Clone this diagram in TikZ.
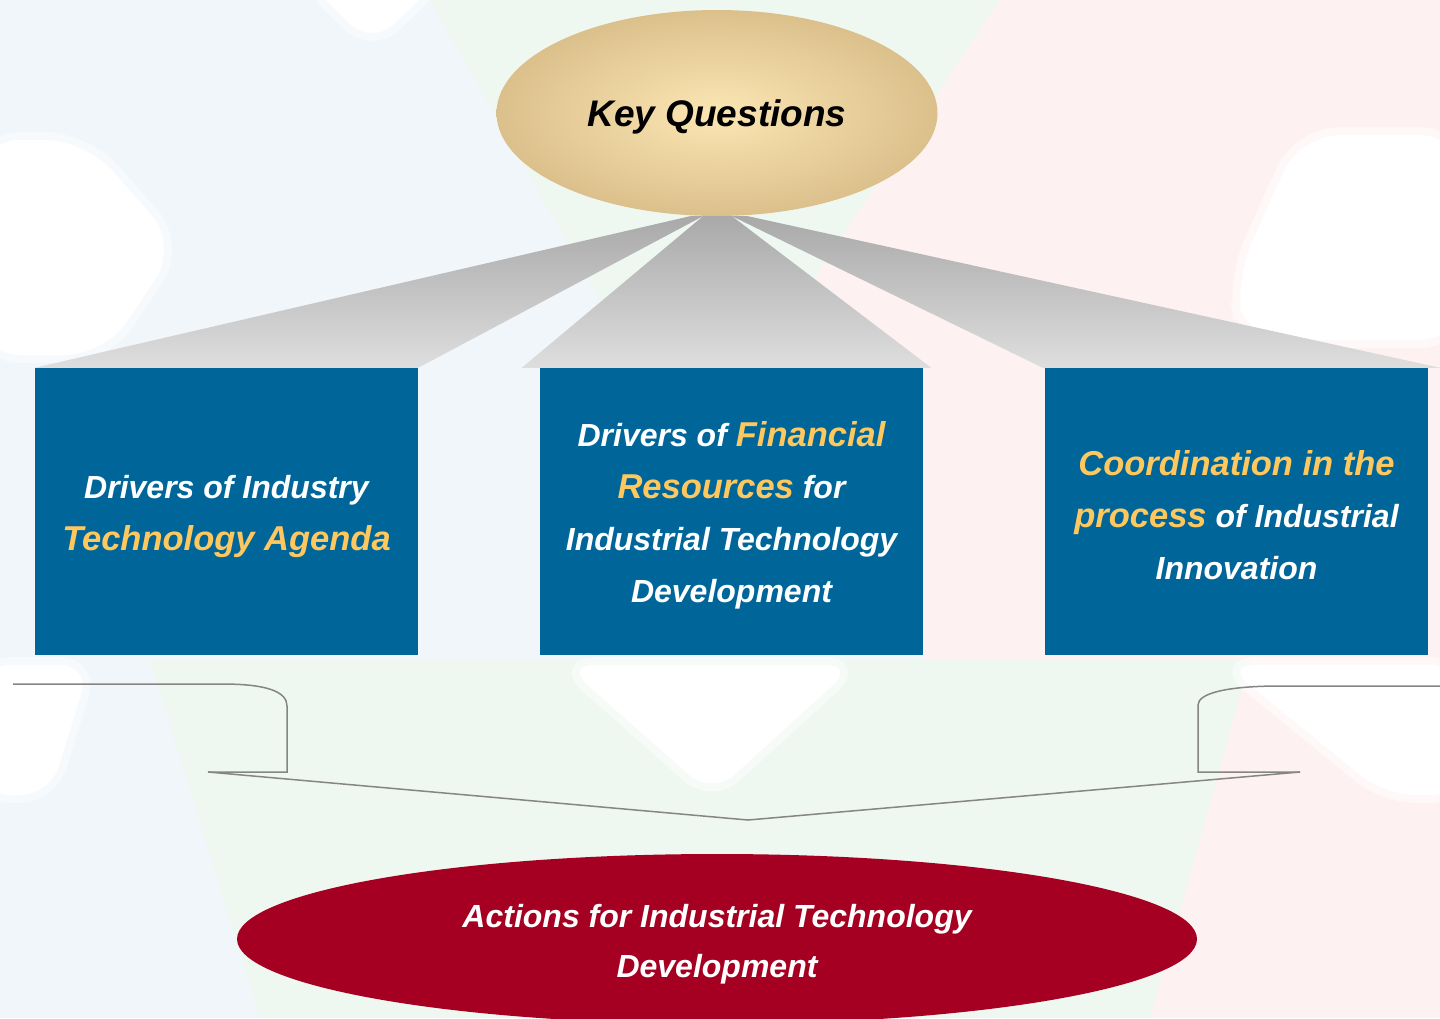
\documentclass[tikz,border=0pt]{standalone}
\usepackage{fontspec}
\setmainfont{Liberation Sans}
\usetikzlibrary{shapes.geometric,positioning,calc}

\definecolor{boxblue}{HTML}{006699}
\definecolor{actred}{HTML}{A50021}
\definecolor{goldtxt}{HTML}{FFC85F}
\definecolor{sandin}{HTML}{FBE6B3}
\definecolor{sandout}{HTML}{DBC08C}
\definecolor{fandark}{HTML}{A9A9A9}
\definecolor{fanlight}{HTML}{DEDEDE}
\definecolor{bgblue}{HTML}{F0F6FA}
\definecolor{bggreen}{HTML}{EEF8F1}
\definecolor{bgpink}{HTML}{FDF1F1}
\definecolor{bracketgray}{HTML}{858585}

\newcommand{\hilite}[1]{{\color{goldtxt}\fontsize{34.5}{52}\selectfont #1}}
\newcommand{\toppad}{\rule{0pt}{33pt}}

\pgfdeclarelayer{bg}
\pgfdeclarelayer{fans}
\pgfsetlayers{bg,fans,main}

\begin{document}
\begin{tikzpicture}[
    x=1pt, y=-1pt,
    driver/.style={rectangle, fill=boxblue, text=white, inner sep=0pt,
                   minimum width=383pt, minimum height=287pt, align=center,
                   font=\bfseries\itshape\fontsize{32}{52}\selectfont},
    fan/.style={top color=fandark, bottom color=fanlight},
    bracket/.style={draw=bracketgray, line width=1.5pt},
    soft/.style={fill=white, draw=white, draw opacity=0.5, line width=16pt}
]
\useasboundingbox (0,0) rectangle (1440,1018);
\clip (0,0) rectangle (1440,1018);

% Top: key questions
\node[ellipse, inner color=sandin, outer color=sandout, inner sep=0pt,
      minimum width=441pt, minimum height=206pt, text depth=0pt,
      font=\bfseries\itshape\fontsize{37}{44}\selectfont] (keyq) at (717,113) {Key Questions};

% Middle: the three drivers
\node[driver] (drvind) at (226.5,511.5) {\toppad Drivers of Industry\\\hilite{Technology Agenda}};
\node[driver] (drvfin) at (731.5,511.5) {\toppad Drivers of \hilite{Financial}\\\hilite{Resources} for\\Industrial Technology\\Development};
\node[driver] (coord) at (1236.5,511.5) {\toppad\hilite{Coordination in the}\\\hilite{process} of Industrial\\Innovation};

% Bottom: actions
\node[ellipse, fill=actred, text=white, inner sep=0pt, align=center,
      minimum width=960pt, minimum height=170pt,
      font=\bfseries\itshape\fontsize{32}{50}\selectfont] (actions) at (717,939)
      {\toppad Actions for Industrial Technology\\Development};

% Fans from the ellipse down to the boxes
\begin{pgfonlayer}{fans}
\shade[fan] ($(keyq.south)+(-27,0)$) -- (drvind.north west) -- (drvind.north east)
    -- ($(keyq.south)+(-14,0)$) -- cycle;
\shade[fan] ($(keyq.south)+(-14,0)$) -- ($(drvfin.north west)+(-18,0)$)
    -- ($(drvfin.north east)+(8,0)$) -- ($(keyq.south)+(15,0)$) -- cycle;
\shade[fan] ($(keyq.south)+(15,0)$) -- ($(coord.north west)+(-2,0)$)
    -- ($(coord.north east)+(12,0)$) -- ($(keyq.south)+(31,0)$) -- cycle;
\end{pgfonlayer}

% Brackets and the arrow to the actions
\coordinate (lstart) at (13,684);
\coordinate (lfoot)  at (208,772);
\coordinate (tip)    at (748,820);
\coordinate (rfoot)  at (1300,772);
\coordinate (rend)   at (1440,686);

\draw[bracket] (lstart) -- (222,684) .. controls (268,684) and (287,692) .. (287,706)
    -- (287,772) -- (lfoot);
\draw[bracket] (rfoot) -- (1198,772) -- (1198,705)
    .. controls (1198,693) and (1228,686) .. (1280,686) -- (rend);
\draw[bracket] (lfoot) -- (tip) -- (rfoot);

% Pale background
\begin{pgfonlayer}{bg}
\fill[bgblue] (0,0) rectangle (1440,1018);
\fill[bggreen] (430,0) -- (1000,0) -- (800,300) -- (600,300) -- cycle;
\fill[bggreen] (150,660) -- (1250,660) -- (1150,1018) -- (260,1018) -- cycle;
\fill[bgpink] (1000,0) -- (1440,0) -- (1440,1018) -- (1150,1018) -- (1250,660)
    -- (925,660) -- (850,400) -- (800,300) -- cycle;
\filldraw[soft, rounded corners=30pt] (305,-20) -- (440,-20) -- (372,45) -- cycle;
\filldraw[soft, rounded corners=40pt] (-20,140) -- (85,140) -- (178,245) -- (105,355)
    -- (-20,355) -- cycle;
\filldraw[soft, rounded corners=40pt] (1300,135) -- (1460,135) -- (1460,340)
    -- (1245,340) -- (1235,280) -- cycle;
\filldraw[soft, rounded corners=30pt] (-20,665) -- (90,665) -- (50,795) -- (-20,795) -- cycle;
\filldraw[soft, rounded corners=30pt] (565,665) -- (855,665) -- (712,795) -- cycle;
\filldraw[soft, rounded corners=30pt] (1225,665) -- (1460,665) -- (1460,795) -- (1385,795) -- cycle;
\end{pgfonlayer}

\end{tikzpicture}
\end{document}
